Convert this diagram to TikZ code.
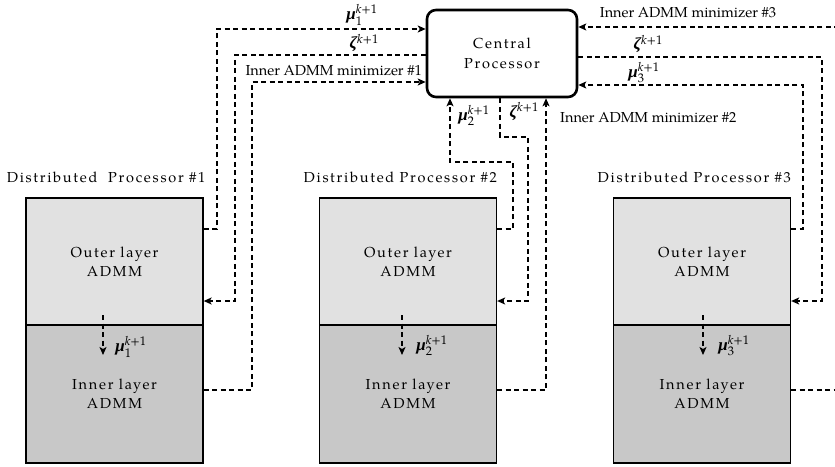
\documentclass[tikz,border=0pt]{standalone}
\usepackage{amsmath}
\usepackage{fontspec}
\setmainfont{TeX Gyre Pagella}
\newfontfamily\spaced[LetterSpace=12]{TeX Gyre Pagella}
\newfontfamily\gfont{Liberation Serif}
\newcommand{\gsym}[1]{\mbox{\gfont\bfseries\itshape\fontsize{17}{17}\selectfont #1}}
\newcommand{\mscr}[1]{\mbox{\fontsize{12.5}{13}\selectfont #1}}
\newcommand{\mulab}[1]{$\gsym{μ}_{\mscr{#1}}^{\mscr{{\itshape k}+1}}$}
\newcommand{\zlab}{\gsym{ζ}\raisebox{5.5pt}{\mscr{{\itshape k}+1}}}
\usetikzlibrary{arrows.meta,calc}
\definecolor{outerfill}{HTML}{E1E1E1}
\definecolor{innerfill}{HTML}{C8C8C8}
\begin{document}
\begin{tikzpicture}[x=1pt,y=-1pt,
  box/.style={draw, line width=1.3pt, minimum width=177pt, inner sep=0pt, align=center,
    font=\spaced\fontsize{14.5}{19}\selectfont},
  outerbox/.style={box, fill=outerfill, minimum height=127pt},
  innerbox/.style={box, fill=innerfill, minimum height=138pt},
  central/.style={draw, line width=2.6pt, rounded corners=9pt, minimum width=150pt,
    minimum height=87pt, align=center, font=\spaced\fontsize{14.5}{20}\selectfont},
  dl/.style={line width=1.8pt, dash pattern=on 5pt off 3.5pt},
  arr/.style={dl, -{Stealth[length=8pt,width=7pt,inset=2pt]}},
  dpl/.style={font=\spaced\fontsize{14.5}{19}\selectfont, inner sep=0pt, anchor=base east},
  txt/.style={font=\fontsize{14.5}{17}\selectfont, inner sep=0pt},
  ml/.style={font=\fontsize{14.5}{18}\selectfont, inner sep=0pt, anchor=base}
]
\useasboundingbox (0,0) rectangle (835,466);

% central processor
\node[central] (c) at (502,53.5) {Central\\Processor};

% distributed processors
\node[outerbox] (o1) at (114.5,261.5) {Outer layer\\ADMM};
\node[innerbox] (i1) at (114.5,394) {Inner layer\\ADMM};
\node[outerbox] (o2) at (408,261.5) {Outer layer\\ADMM};
\node[innerbox] (i2) at (408,394) {Inner layer\\ADMM};
\node[outerbox] (o3) at (702,261.5) {Outer layer\\ADMM};
\node[innerbox] (i3) at (702,394) {Inner layer\\ADMM};

\node[dpl] (d1) at ($(o1.north east)+(2,-15)$) {Distributed~~Processor \#1};
\node[dpl] (d2) at ($(o2.north east)+(0,-15)$) {Distributed Processor \#2};
\node[dpl] (d3) at ($(o3.north east)+(0,-15)$) {Distributed Processor \#3};

% internal arrows
\coordinate (a1s) at (103,315); \coordinate (a1e) at (103,355);
\coordinate (a2s) at (402,315); \coordinate (a2e) at (402,355);
\coordinate (a3s) at (703,315); \coordinate (a3e) at (703,355);
\draw[arr] (a1s) -- (a1e);
\draw[arr] (a2s) -- (a2e);
\draw[arr] (a3s) -- (a3e);
\node[ml] (m1i) at (131,351) {\mulab{1}};
\node[ml] (m2i) at (432,350) {\mulab{2}};
\node[ml] (m3i) at (734,350) {\mulab{3}};

% processor 1 connectors
\draw[arr] (o1.east |- 0,229) -| (217,29) -- (c.west |- 0,29);
\draw[arr] (c.west |- 0,55) -| (235,301) -- (o1.east |- 0,301);
\draw[arr] (i1.east |- 0,390) -| (252,82) -- (c.west |- 0,82);
\node[ml] (l1a) at (362,19) {\mulab{1}};
\node[ml] (l1b) at (364,48.5) {\zlab};
\node[txt, anchor=base east] (l1c) at (422,75) {Inner ADMM minimizer \#1};

% processor 2 connectors
\draw[arr] (o2.east |- 0,229) -| (513,162) -| (c.south -| 450,0);
\draw[arr] (c.south -| 500,0) |- (528,137) |- (o2.east |- 0,301);
\draw[arr] (i2.east |- 0,390) -| (c.south -| 546,0);
\node[ml] (l2a) at (474,120) {\mulab{2}};
\node[ml] (l2b) at (524,117) {\zlab};
\node[txt, anchor=base west] (l2c) at (560,122) {Inner ADMM minimizer \#2};

% processor 3 connectors
\draw[arr] (o3.east |- 0,229) -| (803,85) -- (c.east |- 0,85);
\draw[arr] (c.east |- 0,57) -| (822,301) -- (o3.east |- 0,301);
\draw[arr] (i3.east |- 0,390) -| (842,27) -- (c.east |- 0,27);
\node[ml] (l3a) at (644,77) {\mulab{3}};
\node[ml] (l3b) at (648,49.5) {\zlab};
\node[txt, anchor=base] (l3c) at (688,17) {Inner ADMM minimizer \#3};
\end{tikzpicture}
\end{document}
